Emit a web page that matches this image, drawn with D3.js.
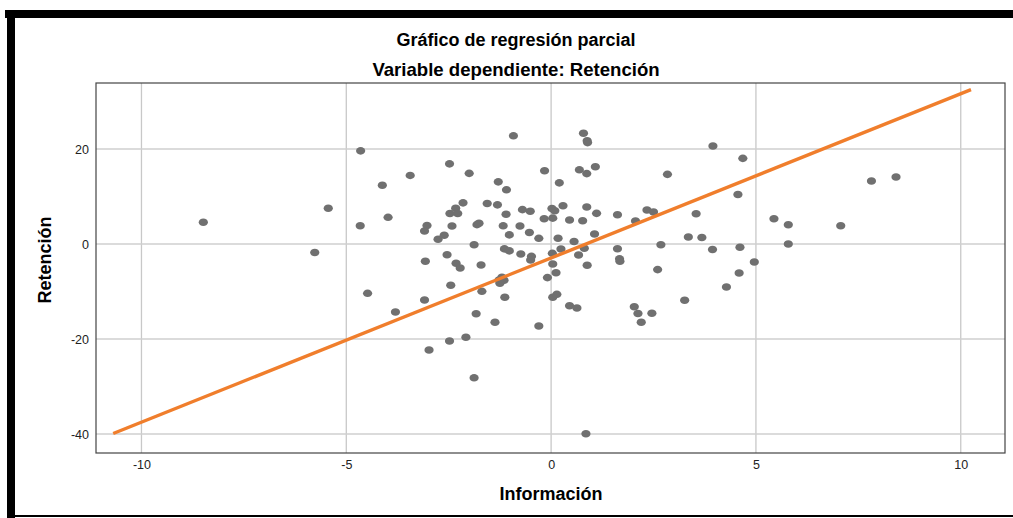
<!DOCTYPE html>
<html><head><meta charset="utf-8">
<script src="https://cdn.jsdelivr.net/npm/d3@7"></script>
<style>
html,body{margin:0;padding:0;background:#fff;}
svg{display:block;font-family:"Liberation Sans",Arial,sans-serif;}
</style></head>
<body>
<svg id="chart" width="1013" height="518"></svg>
<script>
// Data (partial regression: Información vs Retención residuals)
const informacion = [-0.92,0.79,0.88,0.89,-4.65,-2.48,-2.00,-0.16,-3.44,-4.12,-1.29,-1.09,0.20,0.69,0.87,1.08,2.84,3.95,4.68,4.56,7.82,8.42,
  -5.44,-2.15,-2.33,-2.47,-2.28,-1.56,-1.31,-1.10,-0.70,-0.51,0.02,0.09,0.29,0.87,1.11,1.62,2.34,2.50,3.54,-3.98,-4.66,-3.03,-3.09,-2.42,-1.81,-1.76,-1.17,-0.76,-1.02,-0.53,-0.30,-2.61,-2.76,-0.17,0.04,0.45,0.77,2.06,1.06,0.17,0.56,3.35,3.68,5.44,5.79,7.07,-8.49,
  -1.88,-5.77,-2.54,-1.14,-1.02,-0.74,-0.48,-0.50,-3.07,-2.32,-2.22,-1.71,0.04,0.24,0.03,0.81,0.67,0.88,1.62,1.67,1.68,2.68,2.60,3.94,4.61,4.96,5.79,4.59,0.12,-0.09,-1.27,-1.20,-1.15,-1.25,
  -2.45,-1.69,-4.48,-3.09,-3.80,-1.13,0.04,0.14,0.45,0.63,2.03,2.12,2.46,2.20,3.26,4.28,-1.83,-1.37,-0.30,-2.08,-2.48,-2.98,-1.88,0.85];
const retencion = [22.78,23.31,21.75,21.35,19.62,16.88,14.88,15.43,14.44,12.38,13.09,11.41,12.88,15.62,14.82,16.27,14.67,20.63,18.04,10.42,13.26,14.11,
  7.52,8.67,7.54,6.42,6.42,8.53,8.25,6.27,7.24,6.91,7.49,7.01,8.06,7.79,6.46,6.17,7.16,6.74,6.38,5.62,3.85,3.89,2.74,3.79,4.08,4.38,3.83,3.79,1.92,2.42,1.20,1.85,1.01,5.33,5.45,5.05,4.91,4.84,2.11,1.22,0.53,1.47,1.37,5.33,4.06,3.85,4.57,
  -0.15,-1.79,-2.25,-1.03,-1.45,-2.11,-2.61,-3.37,-3.64,-4.04,-5.05,-4.42,-4.21,-1.05,-1.96,-0.88,-2.32,-4.48,-1.01,-3.12,-3.62,-0.15,-5.39,-1.16,-0.69,-3.79,0.00,-6.11,-6.06,-7.07,-7.58,-6.99,-7.62,-8.27,
  -8.67,-9.96,-10.38,-11.79,-14.32,-11.22,-11.22,-10.59,-12.99,-13.47,-13.20,-14.63,-14.57,-16.46,-11.85,-9.05,-14.69,-16.48,-17.26,-19.62,-20.42,-22.32,-28.17,-39.94];
// Fit line endpoints (as drawn)
const fitX = [-10.69, 10.25];
const fitY = [-39.9, 32.5];
const xTicks = [-10, -5, 0, 5, 10];
const yTicks = [20, 0, -20, -40];
const titleLines = ["Gráfico de regresión parcial", "Variable dependiente: Retención"];
const titleSizes = [18, 18.6];
const xLabel = "Información";
const yLabel = "Retención";

const svg = d3.select("#chart");
const L = 96, R = 1005, T = 83, B = 453;
const x = d3.scaleLinear().domain([-11.11, 11.08]).range([L, R]);
const y = d3.scaleLinear().domain([-44, 33.9]).range([B, T]);

// outer black frame
svg.append("rect").attr("x", 5).attr("y", 10).attr("width", 1008).attr("height", 8).attr("fill", "#000");
svg.append("rect").attr("x", 7).attr("y", 10).attr("width", 8).attr("height", 508).attr("fill", "#000");
svg.append("rect").attr("x", 7).attr("y", 515).attr("width", 1006).attr("height", 2).attr("fill", "#000");

// titles
svg.selectAll("text.title").data(titleLines).enter().append("text")
  .attr("class", "title")
  .attr("x", 516).attr("y", (d, i) => 46 + i * 30)
  .attr("text-anchor", "middle")
  .attr("font-size", (d, i) => titleSizes[i]).attr("font-weight", "bold").attr("fill", "#000")
  .text(d => d);

// grid
const g = svg.append("g");
g.selectAll("line.vg").data(xTicks).enter().append("line")
  .attr("x1", d => x(d)).attr("x2", d => x(d)).attr("y1", T).attr("y2", B)
  .attr("stroke", "#c8c8c8").attr("stroke-width", 1.3);
g.selectAll("line.hg").data(yTicks).enter().append("line")
  .attr("x1", L).attr("x2", R).attr("y1", d => y(d)).attr("y2", d => y(d))
  .attr("stroke", "#cfcfcf").attr("stroke-width", 1.5);

// frame
svg.append("rect").attr("x", L).attr("y", T).attr("width", R - L).attr("height", B - T)
  .attr("fill", "none").attr("stroke", "#444").attr("stroke-width", 1.2);

// points
svg.append("g").selectAll("ellipse").data(informacion.map((v, i) => [v, retencion[i]])).enter()
  .append("ellipse")
  .attr("cx", d => x(d[0])).attr("cy", d => y(d[1]))
  .attr("rx", 4.6).attr("ry", 3.8)
  .attr("fill", "#707070");

// fit line
svg.append("path")
  .datum(fitX.map((v, i) => [v, fitY[i]]))
  .attr("d", d3.line().x(d => x(d[0])).y(d => y(d[1])))
  .attr("stroke", "#f07e2c").attr("stroke-width", 3.4).attr("fill", "none");

// axes
const fmt = d => String(d);
const xa = svg.append("g").attr("transform", `translate(0,${B})`)
  .call(d3.axisBottom(x).tickValues(xTicks).tickSize(0).tickPadding(7).tickFormat(fmt));
xa.select(".domain").remove();
const ya = svg.append("g").attr("transform", `translate(${L},0)`)
  .call(d3.axisLeft(y).tickValues(yTicks).tickSize(0).tickPadding(7).tickFormat(fmt));
ya.select(".domain").remove();
svg.selectAll(".tick text").attr("font-size", 12.5).attr("fill", "#222")
  .attr("font-family", '"Liberation Sans",Arial,sans-serif');

// axis titles
svg.append("text").attr("x", 551).attr("y", 500).attr("text-anchor", "middle")
  .attr("font-size", 18).attr("font-weight", "bold").text(xLabel);
svg.append("text").attr("transform", "translate(51,260) rotate(-90)").attr("text-anchor", "middle")
  .attr("font-size", 18).attr("font-weight", "bold").text(yLabel);
</script>
</body></html>
